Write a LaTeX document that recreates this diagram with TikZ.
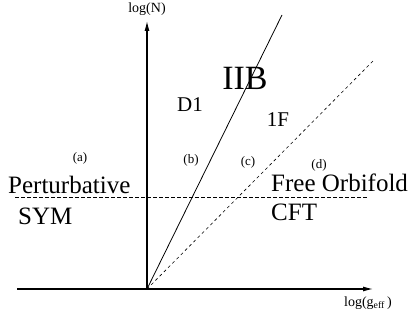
\documentclass[tikz,border=0pt]{standalone}
\usepackage{fontspec}
\setmainfont{Liberation Serif}
\usetikzlibrary{arrows.meta, positioning}

\tikzset{
  axis/.style={line width=1.1pt, -{Latex[length=10pt,width=5pt]}},
  regionlbl/.style={font=\fontsize{13}{15}\selectfont},
  phaselbl/.style={font=\fontsize{25}{28}\selectfont, anchor=west, inner sep=0pt},
  axislbl/.style={font=\fontsize{14}{16}\selectfont}
}

\begin{document}
\begin{tikzpicture}[x=1pt, y=1pt]
                \useasboundingbox (0,0) rectangle (412,320);

                % Axes
                \coordinate (O) at (147,31);
                \coordinate (Ytop) at (147,299);
                \coordinate (Xleft) at (17,31);
                \coordinate (Xright) at (373,31);
                \draw[axis] (O) -- (Ytop);
                \draw[line width=1.1pt] (Xleft) -- (O);
                \draw[axis] (O) -- (Xright);
                \node[axislbl] (logN) at (147,311) {log(N)};
                \node[axislbl] (logg) at (368,17) {log(g\textsubscript{eff}\,)};

                % Phase boundaries
                \coordinate (Dtop) at (282,305);
                \coordinate (Ftop) at (373,259);
                \coordinate (Hleft) at (15,123);
                \coordinate (Hright) at (367,123);
                \draw[line width=0.8pt] (O) -- (Dtop);
                \draw[line width=0.6pt, dash pattern=on 3pt off 3pt] (O) -- (Ftop);
                \draw[line width=0.8pt, dash pattern=on 3.5pt off 2.5pt] (Hleft) -- (Hright);

                % Regions
                \node[regionlbl] (ra) at (80,162) {(a)};
                \node[regionlbl] (rb) at (191,160) {(b)};
                \node[regionlbl] (rc) at (248,158) {(c)};
                \node[regionlbl] (rd) at (319,155) {(d)};

                \node[phaselbl] (pert) at (8,135) {Perturbative};
                \node[phaselbl] (sym) at (18,104) {SYM};
                \node[phaselbl] (orb) at (271,137) {Free Orbifold};
                \node[phaselbl] (cft) at (271,108) {CFT};

                \node[font=\fontsize{34}{38}\selectfont] (iib) at (245,242) {IIB};
                \node[font=\fontsize{21}{24}\selectfont] (d1) at (190,215) {D1};
                \node[font=\fontsize{21}{24}\selectfont] (f1) at (278,200) {1F};
            \end{tikzpicture}
\end{document}
